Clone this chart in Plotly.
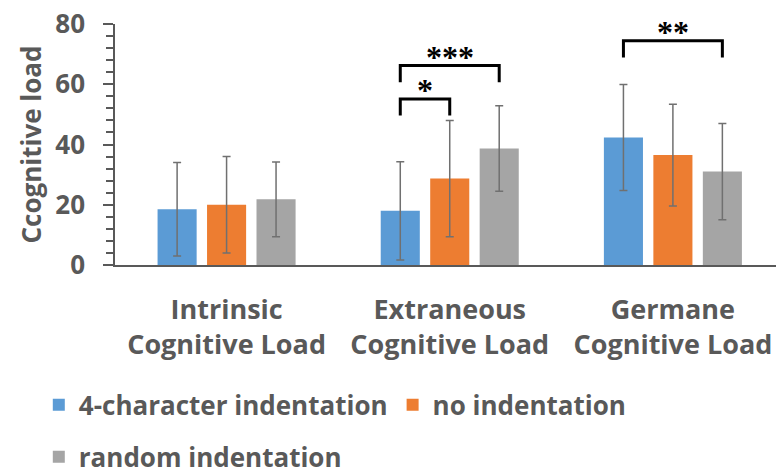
import plotly.graph_objects as go

categories = ["Intrinsic<br>Cognitive Load", "Extraneous<br>Cognitive Load", "Germane<br>Cognitive Load"]
series_names = ["4-character indentation", "no indentation", "random indentation"]
means_4char = [18.5, 18.0, 42.3]
means_none = [20.0, 28.7, 36.5]
means_random = [21.8, 38.7, 31.0]
err_4char = [15.5, 16.3, 17.6]
err_none = [16.0, 19.3, 16.9]
err_random = [12.4, 14.2, 16.0]
y_ticks = [0, 20, 40, 60, 80]

# significance comparisons: (category index, series a, series b, bracket top, label)
comparisons = [
    (1, 0, 1, 55.1, "*"),
    (1, 0, 2, 66.2, "***"),
    (2, 0, 2, 74.4, "**"),
]

colors = ["#5B9BD5", "#ED7D31", "#A5A5A5"]
text_color = "#595959"
font_family = "Open Sans"
fs = 26

bargap = 0.335
bargroupgap = 0.21
slot = (1 - bargap) / 3

fig = go.Figure()
for name, m, e, c, lg in zip(series_names,
                           [means_4char, means_none, means_random],
                           [err_4char, err_none, err_random],
                           colors, ["legend", "legend", "legend2"]):
    fig.add_trace(go.Bar(
        x=categories, y=m, name=name,
        marker=dict(color=c, line=dict(width=0)),
        error_y=dict(type="data", array=e, visible=True, color="#707070",
                     thickness=1.5, width=4),
        legend=lg,
    ))

shapes = []
annotations = []
for ci, a, b, top, label in comparisons:
    xa = ci + (a - 1) * slot
    xb = ci + (b - 1) * slot
    leg = 5.5
    shapes.append(dict(type="path", xref="x", yref="y",
                       path=f"M {xa},{top - leg} L {xa},{top} L {xb},{top} L {xb},{top - leg}",
                       line=dict(color="black", width=3)))
    annotations.append(dict(x=(xa + xb) / 2, y=top, xref="x", yref="y",
                            text=label, showarrow=False, yanchor="bottom", yshift=-11,
                            font=dict(family="Liberation Serif", size=32, color="black")))

fig.update_layout(
    width=776, height=474, autosize=False,
    margin=dict(l=115, r=0, t=24, b=209, pad=0),
    plot_bgcolor="white", paper_bgcolor="white",
    barmode="group", bargap=bargap, bargroupgap=bargroupgap,
    font=dict(family=font_family, size=fs, color=text_color, weight="bold"),
    shapes=shapes, annotations=annotations,
    showlegend=True,
    legend=dict(orientation="h", xref="container", yref="container",
                x=0.05, y=0.146, xanchor="left", yanchor="middle",
                font=dict(family=font_family, size=fs, color=text_color, weight="bold"),
                bgcolor="rgba(0,0,0,0)", itemclick=False),
    legend2=dict(orientation="h", xref="container", yref="container",
                 x=0.05, y=0.036, xanchor="left", yanchor="middle",
                 font=dict(family=font_family, size=fs, color=text_color, weight="bold"),
                 bgcolor="rgba(0,0,0,0)", itemclick=False),
)
fig.update_xaxes(
    type="category", range=[-0.5, 2.462],
    showline=True, linecolor="#595959", linewidth=1.5,
    ticks="", showgrid=False, zeroline=False,
    tickfont=dict(family=font_family, size=27, color=text_color, weight="bold"),
    ticklabelstandoff=20,
)
fig.update_yaxes(
    range=[0, 80], tickvals=y_ticks,
    showline=True, linecolor="#595959", linewidth=1.5,
    ticks="outside", ticklen=10, tickwidth=1.5, tickcolor="#595959",
    minor=dict(dtick=4, ticks="outside", ticklen=7, tickwidth=1.5, tickcolor="#595959", showgrid=False),
    showgrid=False, zeroline=False,
    tickfont=dict(family=font_family, size=fs, color=text_color, weight="bold"),
    ticklabelstandoff=13,
    title=dict(text="Ccognitive load", standoff=6,
               font=dict(family=font_family, size=fs, color=text_color, weight="bold")),
)

fig.write_html("out.html")
